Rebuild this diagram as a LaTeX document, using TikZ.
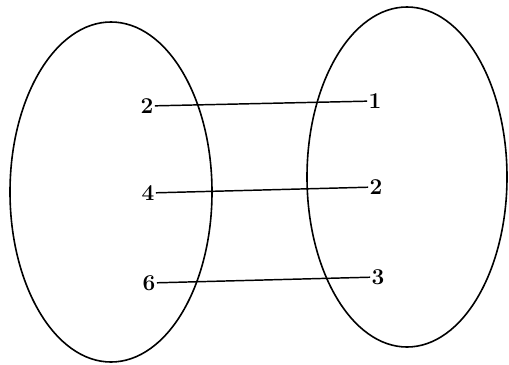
\documentclass[tikz,border=0pt]{standalone}
\begin{document}
\begin{tikzpicture}[x=0.75pt,y=-0.75pt,
  num/.style={font=\fontsize{17}{20}\selectfont\bfseries, inner sep=1pt},
  setline/.style={line width=1.2pt},
  mapline/.style={line width=1.1pt}]
\useasboundingbox (0,0) rectangle (509,364);

% Domain
\draw[setline] (111,192) ellipse (101 and 170);
\node[num] (a2) at (147,106) {2};
\node[num] (a4) at (148,193) {4};
\node[num] (a6) at (149,283) {6};

% Codomain
\draw[setline] (407,177) ellipse (100 and 170);
\node[num] (b1) at (375,101) {1};
\node[num] (b2) at (376,187) {2};
\node[num] (b3) at (378,277) {3};

% Mapping
\draw[mapline] (a2) -- (b1);
\draw[mapline] (a4) -- (b2);
\draw[mapline] (a6) -- (b3);
\end{tikzpicture}
\end{document}
